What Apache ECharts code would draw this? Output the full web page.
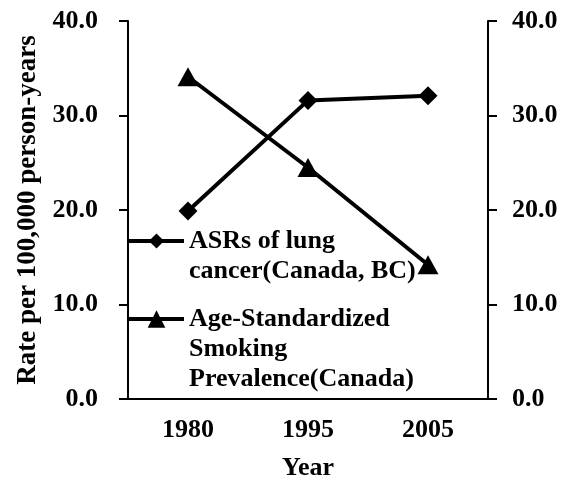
<!DOCTYPE html>
<html>
<head>
<meta charset="utf-8">
<script src="https://cdn.jsdelivr.net/npm/echarts@6/dist/echarts.min.js"></script>
<style>
  html, body { margin: 0; padding: 0; background: #fff; }
  #chart { width: 563px; height: 478px; }
</style>
</head>
<body>
<div id="chart"></div>
<script>
var years = ['1980', '1995', '2005'];
var asrValues = [19.9, 31.6, 32.1];
var smokingValues = [34.1, 24.5, 14.2];
var asrName = 'ASRs of lung\ncancer(Canada, BC)';
var smokingName = 'Age-Standardized\nSmoking\nPrevalence(Canada)';

var font = '"Liberation Serif", "Times New Roman", serif';

function legendFor(name, top, itemH) {
  var lines = name.split('\n').length;
  return {
    data: [{ name: name }],
    orient: 'vertical',
    left: 127,
    top: top,
    padding: 0,
    itemWidth: 55,
    itemHeight: itemH,
    lineStyle: { width: 4, color: '#000' },
    // blank lines in front so the icon sits beside the first line
    formatter: function (n) { return new Array(lines).join('\n') + n; },
    textStyle: {
      color: '#000',
      fontFamily: font,
      fontWeight: 'bold',
      fontSize: 26,
      lineHeight: 30
    }
  };
}

function yAxisFor(pos, margin) {
  return {
    type: 'value',
    position: pos,
    min: 0,
    max: 40,
    interval: 10,
    name: pos === 'left' ? 'Rate per 100,000 person-years' : '',
    nameLocation: 'middle',
    nameGap: 86,
    nameTextStyle: { color: '#000', fontFamily: font, fontWeight: 'bold', fontSize: 27 },
    axisLine: { show: true, lineStyle: { color: '#000', width: 2 } },
    axisTick: { show: true, length: 9, lineStyle: { color: '#000', width: 2 } },
    axisLabel: {
      margin: margin,
      color: '#000',
      fontFamily: font,
      fontWeight: 'bold',
      fontSize: 26,
      formatter: function (v) { return v.toFixed(1); }
    },
    splitLine: { show: false }
  };
}

var chart = echarts.init(document.getElementById('chart'));
chart.setOption({
  animation: false,
  backgroundColor: '#fff',
  grid: { left: 128, right: 75, top: 21, bottom: 79, outerBoundsMode: 'none' },
  legend: [
    legendFor(asrName, 196, 19),
    legendFor(smokingName, 244, 22)
  ],
  xAxis: {
    type: 'category',
    data: years,
    boundaryGap: true,
    name: 'Year',
    nameLocation: 'middle',
    nameGap: 56,
    nameTextStyle: { color: '#000', fontFamily: font, fontWeight: 'bold', fontSize: 26 },
    axisLine: { lineStyle: { color: '#000', width: 2 } },
    axisTick: { alignWithLabel: true, length: 9, lineStyle: { color: '#000', width: 2 } },
    axisLabel: { margin: 18, color: '#000', fontFamily: font, fontWeight: 'bold', fontSize: 26 }
  },
  yAxis: [yAxisFor('left', 30), yAxisFor('right', 24)],
  series: [
    {
      name: asrName,
      type: 'line',
      yAxisIndex: 0,
      data: asrValues,
      symbol: 'diamond',
      symbolSize: 19,
      itemStyle: { color: '#000' },
      lineStyle: { color: '#000', width: 4 }
    },
    {
      name: smokingName,
      type: 'line',
      yAxisIndex: 1,
      data: smokingValues,
      symbol: 'triangle',
      symbolSize: [21, 19],
      itemStyle: { color: '#000' },
      lineStyle: { color: '#000', width: 4 }
    }
  ]
});
</script>
</body>
</html>
